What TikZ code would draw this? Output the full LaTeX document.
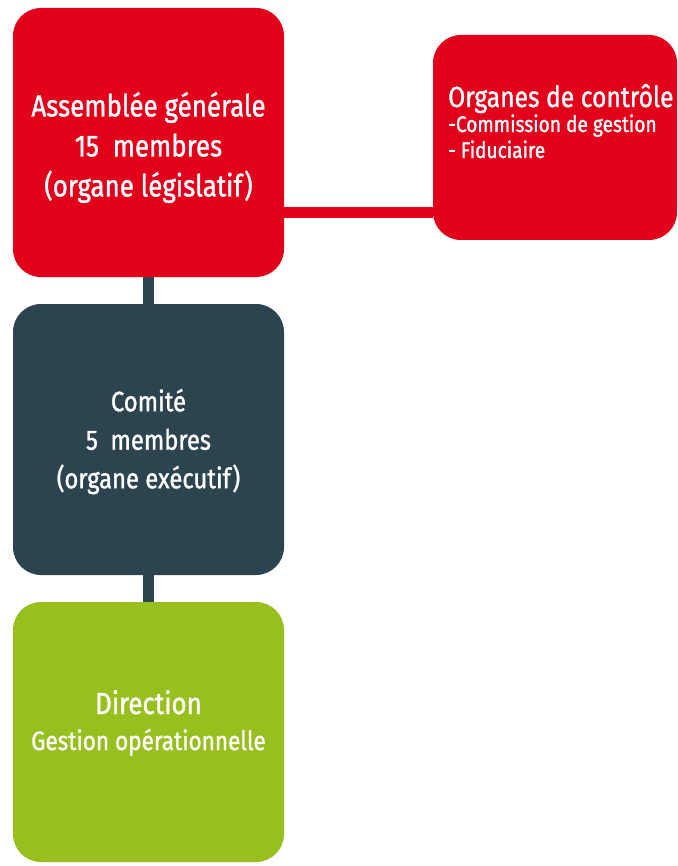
\documentclass[tikz,border=0pt]{standalone}
\usepackage{fontspec}
\setmainfont[FakeStretch=0.85,FakeBold=1.2]{Fira Sans}
\usepackage{xcolor}
\usepackage{tikz}
\usetikzlibrary{positioning}

\definecolor{orgred}{HTML}{E2001A}
\definecolor{orgslate}{HTML}{2C4350}
\definecolor{orggreen}{HTML}{97BF1E}

\begin{document}
\begin{tikzpicture}[x=1pt,y=-1pt,
    every node/.style={text=white, align=center, inner sep=0pt},
    orgbox/.style={rounded corners=28pt, minimum width=271pt},
    link/.style={line width=11pt}]
    \useasboundingbox[fill=white] (0,0) rectangle (677,866);

    % boxes
    \node[orgbox, fill=orgred, minimum height=269pt] (assemblee) at (148.5,142.5) {};
    \node[orgbox, fill=orgred, minimum width=244pt, minimum height=205pt] (controle) at (555,137.5) {};
    \node[orgbox, fill=orgslate, minimum height=271pt] (comite) at (148.5,439.5) {};
    \node[orgbox, fill=orggreen, minimum height=260pt] (direction) at (148.5,732) {};

    % connectors
    \draw[link, orgred] ([yshift=-70.5pt]assemblee.east) -- ([yshift=-70.5pt]assemblee.east -| controle.west);
    \draw[link, orgslate] (assemblee.south) -- (comite.north);
    \draw[link, orgslate] (comite.south) -- (direction.north);

    % texts
    \node[font=\fontsize{30.5}{40}\selectfont] (assembleetxt) at ([yshift=-5pt]assemblee.center)
        {Assemblée générale\\15~~membres\\(organe législatif)};
    \node[font=\fontsize{28}{38.5}\selectfont] (comitetxt) at ([yshift=-2pt]comite.center)
        {Comité\\5~~membres\\(organe exécutif)};

    \node[font=\fontsize{29}{30}\selectfont, anchor=base west] (controletitre) at (448,107) {Organes de contrôle};
    \node[font=\fontsize{22.5}{25}\selectfont, anchor=base west] (commission) at (448,132) {-Commission de gestion};
    \node[font=\fontsize{22.5}{25}\selectfont, anchor=base west] (fiduciaire) at (448,158) {- Fiduciaire};

    \node[font=\fontsize{30.5}{32}\selectfont, anchor=base] (directiontxt) at (148.5,714) {Direction};
    \node[font=\fontsize{26.5}{30}\selectfont, anchor=base] (gestion) at (148.5,750) {Gestion opérationnelle};
\end{tikzpicture}
\end{document}
